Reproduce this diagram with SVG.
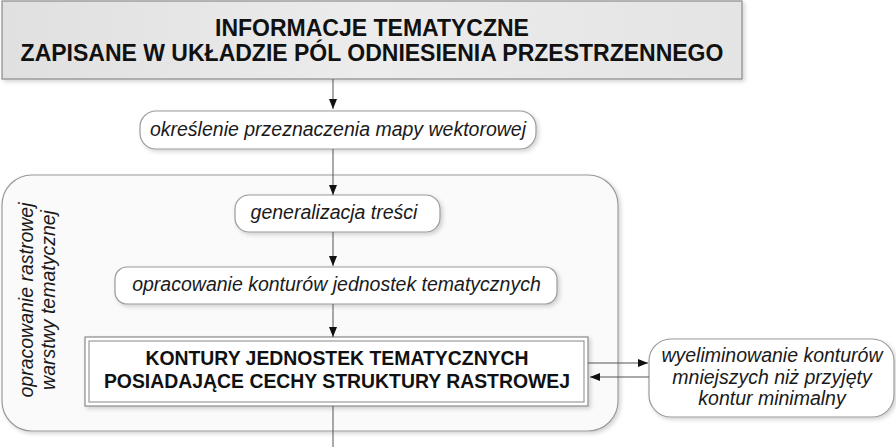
<svg xmlns="http://www.w3.org/2000/svg" width="896" height="447" viewBox="0 0 896 447">
<style>
.box{fill:#ffffff;stroke:#9a9a9a;stroke-width:1.2}
.it{font-family:"Liberation Sans",Arial,sans-serif;font-style:italic;font-size:19.5px;fill:#1a1a1a;text-anchor:middle}
.bd{font-family:"Liberation Sans",Arial,sans-serif;font-weight:bold;fill:#111;text-anchor:middle}
.con{fill:none;stroke:#555;stroke-width:1}
</style>
<defs>
<linearGradient id="g1" x1="0" y1="0" x2="1" y2="0">
<stop offset="0" stop-color="#e0e0e0"/>
<stop offset="0.5" stop-color="#ececec"/>
<stop offset="1" stop-color="#e4e4e4"/>
</linearGradient>
<filter id="sh" x="-5%" y="-10%" width="115%" height="130%">
<feDropShadow dx="2" dy="2" stdDeviation="2" flood-color="#000" flood-opacity="0.18"/>
</filter>
<marker id="ah" viewBox="0 0 10 8" refX="10" refY="4" markerWidth="10" markerHeight="8" markerUnits="userSpaceOnUse" orient="auto">
<path d="M0,0 L10,4 L0,8 z" fill="#111"/>
</marker>
</defs>
<rect width="896" height="447" fill="#ffffff"/>

<g id="container">
<rect x="2" y="175" width="616" height="256" rx="30" fill="#fafafa" stroke="#9a9a9a" stroke-width="1.2" filter="url(#sh)"/>
<text class="it" transform="translate(33,300) rotate(-90)">opracowanie rastrowej</text>
<text class="it" transform="translate(55,300) rotate(-90)">warstwy tematycznej</text>
</g>

<g id="top">
<rect x="2" y="1" width="740" height="78" fill="url(#g1)" stroke="#8a8a8a" stroke-width="1.2" filter="url(#sh)"/>
<text class="bd" x="372" y="36" font-size="23">INFORMACJE TEMATYCZNE</text>
<text class="bd" x="372" y="61" font-size="23">ZAPISANE W UKŁADZIE PÓL ODNIESIENIA PRZESTRZENNEGO</text>
</g>

<g id="okreslenie">
<rect class="box" x="140" y="111" width="396" height="38" rx="16" filter="url(#sh)"/>
<text class="it" x="338" y="136">określenie przeznaczenia mapy wektorowej</text>
</g>

<g id="generalizacja">
<rect class="box" x="235" y="195" width="205" height="37" rx="14" filter="url(#sh)"/>
<text class="it" x="334" y="219">generalizacja treści</text>
</g>

<g id="opracowanie">
<rect class="box" x="115" y="267" width="442" height="37" rx="12" filter="url(#sh)"/>
<text class="it" x="336.5" y="291">opracowanie konturów jednostek tematycznych</text>
</g>

<g id="kontury">
<rect x="85" y="337" width="503" height="69" fill="#ffffff" stroke="#8a8a8a" stroke-width="1.2" filter="url(#sh)"/>
<rect x="89" y="341" width="495" height="61" fill="none" stroke="#9a9a9a" stroke-width="1.2"/>
<text class="bd" x="337" y="365" font-size="19.4">KONTURY JEDNOSTEK TEMATYCZNYCH</text>
<text class="bd" x="337" y="388" font-size="19.4">POSIADAJĄCE CECHY STRUKTURY RASTROWEJ</text>
</g>

<g id="wyeliminowanie">
<rect class="box" x="649" y="339" width="245" height="78" rx="22" filter="url(#sh)"/>
<text class="it" x="772" y="362">wyeliminowanie konturów</text>
<text class="it" x="772" y="384">mniejszych niż przyjęty</text>
<text class="it" x="772" y="405">kontur minimalny</text>
</g>

<g id="connectors">
<path class="con" d="M333,79 V109" marker-end="url(#ah)"/>
<path class="con" d="M333,149 V195" marker-end="url(#ah)"/>
<path class="con" d="M333,232 V266" marker-end="url(#ah)"/>
<path class="con" d="M333,304 V337" marker-end="url(#ah)"/>
<path class="con" d="M333,406 V447"/>
<path class="con" d="M588,363 H648" marker-end="url(#ah)"/>
<path class="con" d="M649,377 H590" marker-end="url(#ah)"/>
</g>
</svg>
